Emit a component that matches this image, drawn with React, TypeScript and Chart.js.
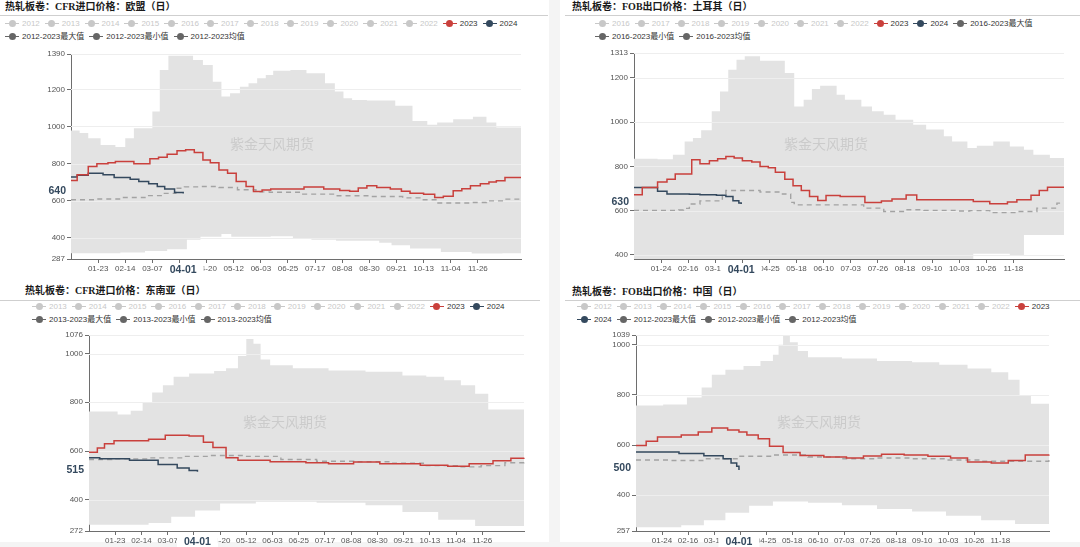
import React, { useEffect, useRef } from 'react';
import { Chart, registerables } from 'chart.js';

Chart.register(...registerables);

type Pt = [string, number];

// ---- categories: every day of a (leap) year, MM-DD ----
const MONTH_LENGTHS = [31, 29, 31, 30, 31, 30, 31, 31, 30, 31, 30, 31];
const pad2 = (n: number) => (n < 10 ? '0' : '') + n;
const DAYS: string[] = [];
MONTH_LENGTHS.forEach((len, m) => {
  for (let d = 1; d <= len; d++) DAYS.push(`${pad2(m + 1)}-${pad2(d)}`);
});

// ---- tick labels ----
const TICKS_A = ['01-23', '02-14', '03-07', '03-29', '04-20', '05-12', '06-03', '06-25', '07-17', '08-08', '08-30', '09-21', '10-13', '11-04', '11-26'];
const TICKS_B = ['01-24', '02-16', '03-10', '04-02', '04-25', '05-18', '06-10', '07-03', '07-26', '08-18', '09-10', '10-03', '10-26', '11-18'];
const MARK_DATE = '04-01';
const WATERMARK = '紫金天风期货';

const Y_EU = [287, 400, 600, 800, 1000, 1200, 1390];
const Y_TR = [400, 600, 800, 1000, 1200, 1313];
const Y_SEA = [272, 400, 600, 800, 1000, 1076];
const Y_CN = [257, 400, 600, 800, 1000, 1039];

// ---- CFR EU ----
const EU_2023: Pt[] = [['01-01', 709], ['01-06', 740], ['01-15', 785], ['01-22', 799], ['01-31', 805], ['02-06', 811], ['02-21', 800], ['03-05', 826], ['03-12', 835], ['03-19', 851], ['03-27', 869], ['04-03', 875], ['04-10', 860], ['04-17', 820], ['04-23', 805], ['04-30', 766], ['05-07', 748], ['05-14', 704], ['05-22', 677], ['05-28', 650], ['06-04', 658], ['06-11', 663], ['07-08', 674], ['07-24', 663], ['08-06', 656], ['08-14', 651], ['08-21', 669], ['08-28', 681], ['09-05', 672], ['09-16', 663], ['09-25', 651], ['10-02', 641], ['10-13', 636], ['10-22', 618], ['10-29', 624], ['11-06', 654], ['11-13', 665], ['11-20', 681], ['11-28', 692], ['12-05', 701], ['12-11', 708], ['12-18', 726], ['12-31', 726]];
const EU_2024: Pt[] = [['01-01', 728], ['01-06', 737], ['01-15', 749], ['01-27', 740], ['02-05', 725], ['02-18', 716], ['02-25', 704], ['03-04', 692], ['03-11', 677], ['03-17', 663], ['03-25', 645], ['04-01', 640]];
const EU_MEAN: Pt[] = [['01-01', 606], ['01-21', 610], ['02-10', 618], ['03-01', 628], ['03-16', 640], ['03-26', 668], ['04-02', 675], ['04-15', 677], ['04-30', 672], ['05-15', 660], ['05-30', 648], ['06-10', 646], ['07-07', 636], ['08-03', 627], ['08-30', 623], ['09-26', 616], ['10-10', 606], ['10-23', 588], ['11-20', 591], ['12-03', 600], ['12-17', 609], ['12-31', 620]];
const EU_MAX: Pt[] = [['01-01', 978], ['01-08', 965], ['01-15', 937], ['01-25', 900], ['02-06', 890], ['02-14', 937], ['02-21', 991], ['03-07', 1080], ['03-13', 1304], ['03-20', 1380], ['04-09', 1358], ['04-17', 1331], ['04-25', 1241], ['05-02', 1161], ['05-09', 1179], ['05-17', 1214], ['05-24', 1233], ['05-31', 1260], ['06-07', 1277], ['06-13', 1300], ['06-27', 1304], ['07-10', 1286], ['07-25', 1233], ['08-02', 1188], ['08-09', 1152], ['08-16', 1143], ['08-28', 1140], ['09-20', 1111], ['10-04', 1030], ['10-16', 1009], ['10-24', 1021], ['11-06', 1039], ['11-22', 1053], ['12-03', 1021], ['12-11', 994], ['12-31', 994]];
const EU_MIN: Pt[] = [['01-01', 318], ['02-10', 322], ['03-01', 330], ['03-19', 340], ['04-04', 391], ['04-15', 407], ['05-02', 421], ['05-10', 407], ['06-11', 410], ['06-29', 400], ['07-14', 391], ['08-03', 385], ['09-07', 375], ['09-17', 361], ['10-02', 343], ['10-27', 325], ['11-21', 316], ['12-16', 318], ['12-31', 325]];

// ---- FOB Turkey ----
const TR_2023: Pt[] = [['01-01', 672], ['01-08', 705], ['01-21', 729], ['01-29', 742], ['02-05', 765], ['02-19', 830], ['02-26', 812], ['03-05', 825], ['03-12', 835], ['03-19', 845], ['03-26', 838], ['04-02', 825], ['04-10', 820], ['04-17', 800], ['04-24', 794], ['04-30', 773], ['05-08', 742], ['05-15', 712], ['05-22', 691], ['05-29', 664], ['06-05', 646], ['06-12', 668], ['06-24', 664], ['07-15', 637], ['07-29', 643], ['08-07', 652], ['08-19', 670], ['08-28', 649], ['10-15', 641], ['10-29', 631], ['11-13', 639], ['11-21', 649], ['12-03', 669], ['12-10', 691], ['12-17', 706], ['12-31', 706]];
const TR_2024: Pt[] = [['01-01', 705], ['01-21', 687], ['01-29', 675], ['02-17', 674], ['02-26', 672], ['03-11', 669], ['03-19', 664], ['03-25', 644], ['03-30', 634], ['04-01', 630]];
const TR_MEAN: Pt[] = [['01-01', 601], ['02-08', 603], ['02-12', 610], ['02-17', 630], ['02-26', 644], ['03-16', 675], ['03-19', 691], ['04-17', 684], ['05-06', 675], ['05-13', 637], ['05-16', 626], ['07-08', 626], ['07-14', 611], ['07-31', 596], ['08-19', 604], ['09-03', 601], ['10-01', 598], ['10-12', 600], ['10-29', 591], ['11-21', 596], ['12-08', 611], ['12-25', 634], ['12-31', 634]];
const TR_MAX: Pt[] = [['01-01', 835], ['01-21', 832], ['02-03', 853], ['02-13', 913], ['02-20', 928], ['02-27', 963], ['03-07', 1049], ['03-14', 1139], ['03-21', 1237], ['03-28', 1283], ['04-04', 1298], ['04-17', 1278], ['05-08', 1222], ['05-16', 1071], ['05-24', 1102], ['05-31', 1150], ['06-07', 1165], ['06-21', 1124], ['06-28', 1102], ['07-12', 1071], ['07-21', 1049], ['07-31', 1034], ['08-10', 1011], ['08-25', 988], ['09-05', 967], ['09-20', 936], ['09-27', 913], ['10-10', 883], ['10-18', 893], ['11-01', 913], ['11-15', 890], ['11-27', 875], ['12-05', 853], ['12-19', 838], ['12-31', 838]];
const TR_MIN: Pt[] = [['01-01', 360], ['10-15', 405], ['11-15', 395], ['11-27', 490], ['12-31', 490]];

// ---- CFR South-East Asia ----
const SEA_2023: Pt[] = [['01-01', 595], ['01-08', 612], ['01-14', 630], ['01-22', 642], ['02-20', 648], ['03-05', 665], ['03-25', 662], ['04-06', 636], ['04-14', 615], ['04-25', 572], ['05-05', 562], ['06-01', 556], ['07-01', 552], ['07-20', 548], ['08-10', 555], ['09-01', 548], ['10-05', 542], ['10-28', 538], ['11-15', 548], ['12-05', 560], ['12-20', 570], ['12-31', 572]];
const SEA_2024: Pt[] = [['01-01', 572], ['01-10', 568], ['02-04', 562], ['02-28', 545], ['03-15', 530], ['03-25', 520], ['04-01', 515]];
const SEA_MEAN: Pt[] = [['01-01', 565], ['01-20', 568], ['02-20', 572], ['03-20', 578], ['04-10', 582], ['05-10', 578], ['06-10', 565], ['07-10', 558], ['08-10', 556], ['09-10', 550], ['10-10', 540], ['11-05', 535], ['11-25', 540], ['12-15', 552], ['12-31', 560]];
const SEA_MAX: Pt[] = [['01-01', 762], ['01-25', 750], ['02-05', 765], ['02-15', 800], ['02-23', 840], ['03-03', 870], ['03-12', 905], ['03-25', 918], ['04-15', 928], ['04-25', 940], ['05-05', 990], ['05-12', 1060], ['05-18', 1040], ['05-24', 975], ['06-01', 952], ['06-20', 940], ['07-20', 930], ['08-20', 925], ['09-20', 910], ['10-10', 905], ['10-25', 890], ['11-08', 870], ['11-20', 835], ['12-01', 770], ['12-31', 768]];
const SEA_MIN: Pt[] = [['01-01', 298], ['02-20', 305], ['03-10', 330], ['03-30', 356], ['04-20', 385], ['05-20', 392], ['07-10', 388], ['08-20', 378], ['09-20', 350], ['10-20', 318], ['11-20', 292], ['12-31', 290]];

// ---- FOB China ----
const CN_2023: Pt[] = [['01-01', 598], ['01-10', 615], ['01-20', 632], ['02-10', 640], ['02-25', 652], ['03-08', 668], ['03-22', 660], ['04-01', 652], ['04-08', 640], ['04-18', 625], ['04-28', 595], ['05-10', 570], ['05-25', 558], ['06-15', 552], ['07-05', 548], ['07-20', 556], ['08-05', 563], ['08-25', 560], ['09-15', 555], ['10-05', 548], ['10-20', 532], ['11-10', 528], ['11-25', 538], ['12-10', 560], ['12-31', 562]];
const CN_2024: Pt[] = [['01-01', 572], ['02-08', 566], ['03-01', 557], ['03-18', 545], ['03-25', 528], ['03-30', 515], ['04-01', 500]];
const CN_MEAN: Pt[] = [['01-01', 540], ['02-01', 538], ['03-01', 545], ['04-01', 555], ['05-01', 560], ['06-01', 552], ['07-01', 545], ['08-01', 548], ['09-01', 545], ['10-01', 540], ['11-01', 535], ['12-01', 535], ['12-31', 545]];
const CN_MAX: Pt[] = [['01-01', 758], ['01-25', 762], ['02-15', 790], ['02-28', 830], ['03-08', 880], ['03-20', 900], ['04-05', 915], ['04-20', 935], ['05-01', 960], ['05-06', 1000], ['05-10', 1035], ['05-16', 1010], ['05-23', 975], ['06-01', 950], ['07-01', 945], ['08-01', 935], ['09-01', 930], ['09-25', 920], ['10-20', 905], ['11-10', 890], ['11-25', 860], ['12-05', 800], ['12-15', 765], ['12-31', 762]];
const CN_MIN: Pt[] = [['01-01', 272], ['02-10', 280], ['03-01', 300], ['03-20', 330], ['04-10', 358], ['05-01', 375], ['06-01', 370], ['07-01', 360], ['08-01', 345], ['09-01', 335], ['10-01', 318], ['11-01', 300], ['12-01', 285], ['12-31', 280]];

// ---- legends ----
const LEG_EU = [['2012', '2013', '2014', '2015', '2016', '2017', '2018', '2019', '2020', '2021', '2022', '2023', '2024'], ['2012-2023最大值', '2012-2023最小值', '2012-2023均值']];
const LEG_TR = [['2016', '2017', '2018', '2019', '2020', '2021', '2022', '2023', '2024', '2016-2023最大值'], ['2016-2023最小值', '2016-2023均值']];
const LEG_SEA = [['2013', '2014', '2015', '2016', '2017', '2018', '2019', '2020', '2021', '2022', '2023', '2024'], ['2013-2023最大值', '2013-2023最小值', '2013-2023均值']];
const LEG_CN = [['2012', '2013', '2014', '2015', '2016', '2017', '2018', '2019', '2020', '2021', '2022', '2023'], ['2024', '2012-2023最大值', '2012-2023最小值', '2012-2023均值']];

// ---- styles ----
const RED = '#c9403c';
const NAVY = '#34495e';
const BAND = '#e3e3e3';
const GRID = '#eeeeee';
const MEAN_C = '#a3a3a3';
const AXIS_C = '#6e6e6e';
const LABEL_C = '#555555';
const OFF_C = '#c8c8c8';
const STAT_C = '#666666';
const FONT = '"Liberation Sans", "Noto Sans CJK SC", sans-serif';

interface PanelCfg {
  title: string;
  titlePos: [number, number];
  rule: [number, number, number];
  legendPos: [number, number];
  legendRows: string[][];
  box: [number, number, number, number];
  plot: [number, number, number, number];
  yMin: number;
  yMax: number;
  yTicks: number[];
  xTicks: string[];
  s2023: Pt[];
  s2024: Pt[];
  mean: Pt[];
  max: Pt[];
  min: Pt[];
  mark: [number, number];
}

const PANELS: PanelCfg[] = [
  {
    title: '热轧板卷：CFR进口价格：欧盟（日）', titlePos: [5, 0], rule: [0, 548, 15],
    legendPos: [5, 17], legendRows: LEG_EU,
    box: [0, 44, 548, 240], plot: [71, 54, 521, 259],
    yMin: 287, yMax: 1390, yTicks: Y_EU, xTicks: TICKS_A,
    s2023: EU_2023, s2024: EU_2024, mean: EU_MEAN, max: EU_MAX, min: EU_MIN, mark: [272, 144],
  },
  {
    title: '热轧板卷：FOB出口价格：土耳其（日）', titlePos: [572, 0], rule: [565, 1080, 15],
    legendPos: [595, 17], legendRows: LEG_TR,
    box: [560, 44, 520, 240], plot: [634, 53, 1064, 259],
    yMin: 381, yMax: 1313, yTicks: Y_TR, xTicks: TICKS_B,
    s2023: TR_2023, s2024: TR_2024, mean: TR_MEAN, max: TR_MAX, min: TR_MIN, mark: [826, 144],
  },
  {
    title: '热轧板卷：CFR进口价格：东南亚（日）', titlePos: [25, 284], rule: [0, 540, 300],
    legendPos: [32, 300], legendRows: LEG_SEA,
    box: [0, 322, 548, 225], plot: [89, 335, 524, 531],
    yMin: 272, yMax: 1076, yTicks: Y_SEA, xTicks: TICKS_A,
    s2023: SEA_2023, s2024: SEA_2024, mean: SEA_MEAN, max: SEA_MAX, min: SEA_MIN, mark: [285, 422],
  },
  {
    title: '热轧板卷：FOB出口价格：中国（日）', titlePos: [572, 285], rule: [565, 1080, 300],
    legendPos: [577, 300], legendRows: LEG_CN,
    box: [560, 322, 520, 225], plot: [636, 335, 1049, 531],
    yMin: 257, yMax: 1039, yTicks: Y_CN, xTicks: TICKS_B,
    s2023: CN_2023, s2024: CN_2024, mean: CN_MEAN, max: CN_MAX, min: CN_MIN, mark: [819, 422],
  },
];

function legendColor(label: string): { icon: string; text: string } {
  if (label === '2023') return { icon: RED, text: '#333' };
  if (label === '2024') return { icon: NAVY, text: '#333' };
  if (label.length > 4) return { icon: STAT_C, text: '#333' };
  return { icon: OFF_C, text: OFF_C };
}

function Legend({ rows, pos }: { rows: string[][]; pos: [number, number] }) {
  return (
    <div style={{ position: 'absolute', left: pos[0], top: pos[1] }}>
      {rows.map((row, ri) => (
        <div key={ri} style={{ display: 'flex', alignItems: 'center', height: 13, whiteSpace: 'nowrap' }}>
          {row.map((label) => {
            const c = legendColor(label);
            return (
              <div key={label} style={{ display: 'flex', alignItems: 'center', marginRight: 5 }}>
                <span style={{ position: 'relative', display: 'inline-block', width: 14, height: 9, marginRight: 3 }}>
                  <span style={{ position: 'absolute', left: 0, width: 14, top: 3.75, height: 1.5, background: c.icon }} />
                  <span style={{ position: 'absolute', left: 3.5, top: 1, width: 7, height: 7, borderRadius: '50%', background: c.icon }} />
                </span>
                <span style={{ fontSize: 8, lineHeight: '10px', color: c.text, fontFamily: FONT }}>{label}</span>
              </div>
            );
          })}
        </div>
      ))}
    </div>
  );
}

function ChartCanvas({ cfg }: { cfg: PanelCfg }) {
  const ref = useRef<HTMLCanvasElement>(null);
  useEffect(() => {
    const [bx, by, bw, bh] = cfg.box;
    const [pl, pt, pr, pb] = cfg.plot;
    const YW = 40;
    const XH = 12;
    const xy = (a: Pt[]) => a.map(([x, y]) => ({ x, y }));
    const last2024 = cfg.s2024[cfg.s2024.length - 1][1];

    const overlay = {
      id: 'overlay',
      afterDatasetDraw(chart: any, args: any) {
        if (args.index !== 3) return;
        const { ctx, chartArea: ca } = chart;
        const ys = chart.scales.y;
        ctx.save();
        ctx.strokeStyle = GRID;
        ctx.lineWidth = 1;
        cfg.yTicks.forEach((v) => {
          if (v <= cfg.yMin) return;
          const y = Math.round(ys.getPixelForValue(v)) + 0.5;
          ctx.beginPath();
          ctx.moveTo(ca.left, y);
          ctx.lineTo(ca.right, y);
          ctx.stroke();
        });
        ctx.font = '14px "Noto Sans CJK SC", sans-serif';
        ctx.fillStyle = '#cbcbcb';
        ctx.textAlign = 'center';
        ctx.textBaseline = 'middle';
        ctx.fillText(WATERMARK, cfg.mark[0] - bx, cfg.mark[1] - by);
        ctx.restore();
      },
      afterDraw(chart: any) {
        const { ctx, chartArea: ca } = chart;
        const xs = chart.scales.x;
        const ys = chart.scales.y;
        ctx.save();
        const mx = xs.getPixelForValue(DAYS.indexOf(MARK_DATE));
        ctx.fillStyle = '#ffffff';
        ctx.fillRect(mx - 20.5, ca.bottom + 5, 41, 13);
        ctx.font = 'bold 10.5px ' + FONT;
        ctx.fillStyle = NAVY;
        ctx.textAlign = 'center';
        ctx.textBaseline = 'middle';
        ctx.fillText(MARK_DATE, mx, ca.bottom + 11);
        const ey = ys.getPixelForValue(last2024) - 2;
        ctx.font = 'bold 10.5px ' + FONT;
        ctx.textAlign = 'right';
        ctx.fillText(String(last2024), ca.left - 5, ey);
        ctx.restore();
      },
    };

    const tickFont = { size: 8, family: FONT };
    const chart = new Chart(ref.current as HTMLCanvasElement, {
      type: 'line',
      data: {
        labels: DAYS,
        datasets: [
          { label: '2023', data: xy(cfg.s2023), borderColor: RED, borderWidth: 1.5, stepped: true, pointRadius: 0, fill: false },
          { label: '2024', data: xy(cfg.s2024), borderColor: NAVY, borderWidth: 1.5, stepped: true, pointRadius: 0, fill: false },
          { label: 'mean', data: xy(cfg.mean), borderColor: MEAN_C, borderWidth: 1.4, borderDash: [5, 4], stepped: true, pointRadius: 0, fill: false },
          { label: 'max', data: xy(cfg.max), borderColor: 'rgba(0,0,0,0)', borderWidth: 1, backgroundColor: BAND, stepped: true, pointRadius: 0, fill: '+1' },
          { label: 'min', data: xy(cfg.min), borderColor: 'rgba(0,0,0,0)', borderWidth: 1, stepped: true, pointRadius: 0, fill: false },
        ],
      } as any,
      options: {
        animation: false,
        responsive: false,
        devicePixelRatio: 1,
        events: [],
        layout: {
          padding: {
            left: pl - bx - YW,
            top: pt - by,
            right: bx + bw - pr,
            bottom: by + bh - pb - XH,
          },
        },
        plugins: { legend: { display: false }, tooltip: { enabled: false } },
        scales: {
          x: {
            type: 'category',
            offset: false,
            afterBuildTicks: (s: any) => {
              s.ticks = cfg.xTicks.map((t) => ({ value: DAYS.indexOf(t) }));
            },
            afterFit: (s: any) => {
              s.height = XH;
            },
            grid: { drawOnChartArea: false, tickLength: 4, tickColor: AXIS_C },
            border: { display: true, color: AXIS_C },
            ticks: { autoSkip: false, maxRotation: 0, minRotation: 0, font: tickFont, color: LABEL_C, padding: 1 },
          },
          y: {
            type: 'linear',
            min: cfg.yMin,
            max: cfg.yMax,
            afterBuildTicks: (s: any) => {
              s.ticks = cfg.yTicks.map((v) => ({ value: v }));
            },
            afterFit: (s: any) => {
              s.width = YW;
            },
            grid: { drawOnChartArea: false, tickLength: 4, tickColor: AXIS_C },
            border: { display: true, color: AXIS_C },
            ticks: { autoSkip: false, font: tickFont, color: LABEL_C, padding: 2, callback: (v: any) => String(v) },
          },
        },
      } as any,
      plugins: [overlay],
    });
    return () => chart.destroy();
  }, [cfg]);
  const [bx, by, bw, bh] = cfg.box;
  return <canvas ref={ref} width={bw} height={bh} style={{ position: 'absolute', left: bx, top: by, width: bw, height: bh }} />;
}

function Panel({ cfg }: { cfg: PanelCfg }) {
  return (
    <>
      <div
        style={{
          position: 'absolute', left: cfg.titlePos[0], top: cfg.titlePos[1], fontSize: 10, lineHeight: '14px',
          fontWeight: 'bold', color: '#1a1a1a', fontFamily: '"Liberation Serif", "Noto Sans CJK SC", serif', whiteSpace: 'nowrap',
        }}
      >
        {cfg.title}
      </div>
      <div style={{ position: 'absolute', left: cfg.rule[0], top: cfg.rule[2], width: cfg.rule[1] - cfg.rule[0], height: 1, background: '#cfcfcf' }} />
      <Legend rows={cfg.legendRows} pos={cfg.legendPos} />
      <ChartCanvas cfg={cfg} />
    </>
  );
}

export default function App() {
  return (
    <div style={{ position: 'absolute', left: 0, top: 0, width: 1080, height: 547, background: '#ffffff', overflow: 'hidden' }}>
      <div style={{ position: 'absolute', left: 549, top: 0, width: 11, height: 547, background: '#f4f4f4' }} />
      <div style={{ position: 'absolute', left: 0, top: 542, width: 1080, height: 5, background: '#f4f4f4' }} />
      {PANELS.map((p, i) => (
        <Panel key={i} cfg={p} />
      ))}
    </div>
  );
}
